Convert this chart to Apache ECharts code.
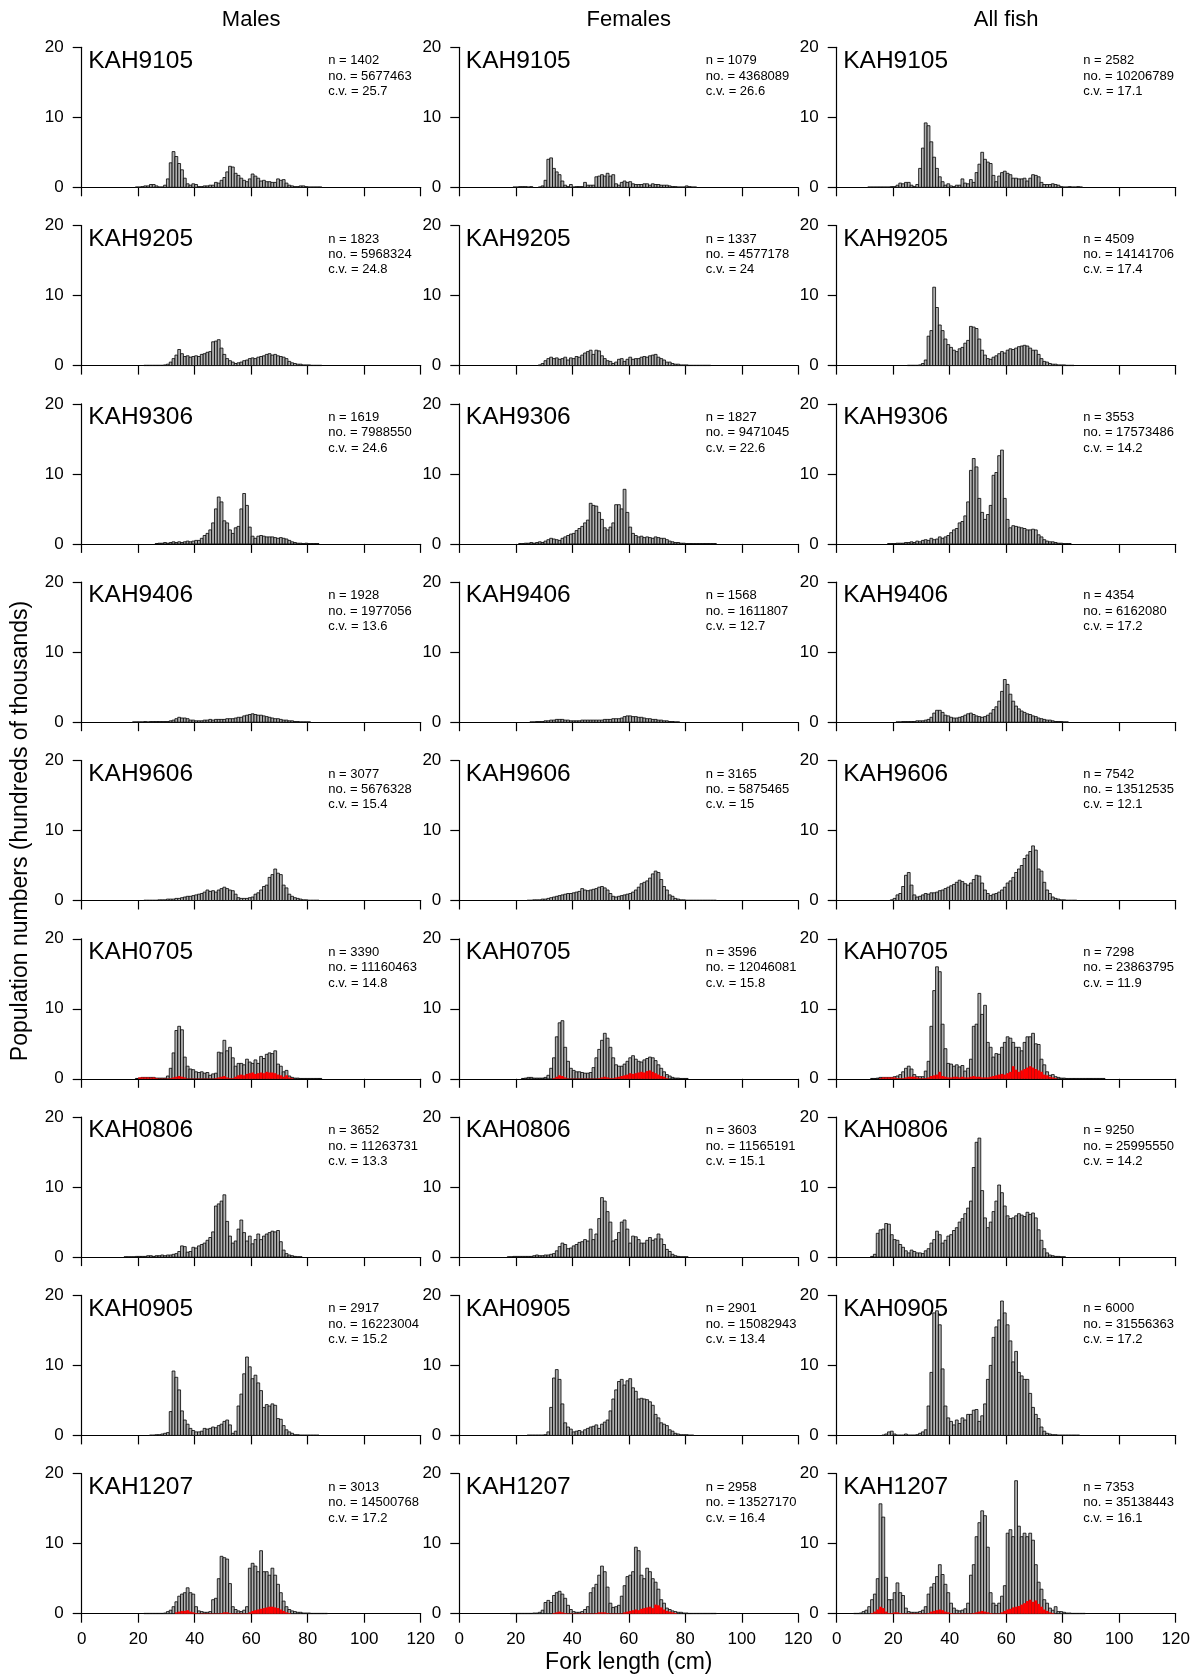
<!DOCTYPE html>
<html>
<head>
<meta charset="utf-8">
<title>Length frequency by survey</title>
<script src="https://cdn.jsdelivr.net/npm/echarts@6/dist/echarts.min.js"></script>
<style>
  html, body { margin: 0; padding: 0; background: #fff; }
  #chart { width: 1195px; height: 1674px; }
</style>
</head>
<body>
<div id="chart"></div>
<script>
/*---------------------------------------- data ----------------------------------------*/
var surveys = ['KAH9105', 'KAH9205', 'KAH9306', 'KAH9406', 'KAH9606', 'KAH0705', 'KAH0806', 'KAH0905', 'KAH1207'];
var groups = ['Males', 'Females', 'All fish'];

var nMale = [1402, 1823, 1619, 1928, 3077, 3390, 3652, 2917, 3013];
var noMale = [5677463, 5968324, 7988550, 1977056, 5676328, 11160463, 11263731, 16223004, 14500768];
var cvMale = ['25.7', '24.8', '24.6', '13.6', '15.4', '14.8', '13.3', '15.2', '17.2'];
var nFemale = [1079, 1337, 1827, 1568, 3165, 3596, 3603, 2901, 2958];
var noFemale = [4368089, 4577178, 9471045, 1611807, 5875465, 12046081, 11565191, 15082943, 13527170];
var cvFemale = ['26.6', '24', '22.6', '12.7', '15', '15.8', '15.1', '13.4', '16.4'];
var nAll = [2582, 4509, 3553, 4354, 7542, 7298, 9250, 6000, 7353];
var noAll = [10206789, 14141706, 17573486, 6162080, 13512535, 23863795, 25995550, 31556363, 35138443];
var cvAll = ['17.1', '17.4', '14.2', '17.2', '12.1', '11.9', '14.2', '17.2', '16.1'];

// population numbers (hundreds of thousands) per 1 cm bin, first bin given in *From arrays
var m9105 = [.05,.05,.1,.2,.2,.4,.4,.2,.05,.05, .3,1.2,3.5,5.1,4.4,3.4,2.5,1.3,.5,.3, .5,.4,.1,.1,.2,.2,.3,.3,.7,.6,
  1.0,1.4,2.2,3.0,2.9,2.0,1.7,1.3,1.0,.8, 1.2,1.9,1.6,1.3,.9,1.0,.8,.8,.7,.7, 1.2,1.0,1.1,.6,.3,.2,.1,.1,.2,.2, .1,.05,.05,.05,.05,.05];
var m9205 = [.05,.05,.05,.05,.05,.05,.05, .1,.2,.5,1.0,1.5,2.3,1.7,1.3,1.4,1.2,1.3, 1.4,1.3,1.6,1.7,1.9,2.0,3.4,3.5,3.7,2.5,
  1.6,1.0,.7,.5,.3,.4,.5,.7,.8,1.0, 1.1,1.0,1.2,1.3,1.4,1.6,1.7,1.5,1.6,1.4, 1.3,1.2,1.0,.6,.4,.3,.2,.2,.1,.1, .1,.05,.05,.05,.05];
var m9306 = [.05,.1,.1,.2,.1,.2,.3,.2,.3,.2,.3,.4,.3,.4,.5,.5,.8,1.2,1.5,2.0,3.0,5.0,6.7,6.0,3.3,3.0,2.0,1.5,2.3,2.5,
  5.0,7.2,5.5,2.4,1.1,.8,1.1,1.2,1.1,1.0,1.0,1.0,.9,.8,.9,.8,.7,.5,.3,.2,.1,.1,.05,.1,.05,.05,.05,.05];
var m9406 = [.05,.05,.05,.05,.1,.05,.1,.1,.1,.1,.1,.1,.1,.2,.3,.5,.7,.6,.6,.5,.3,.3,.2,.2,.2,.3,.3,.4,.3,.4,
  .4,.4,.4,.5,.5,.5,.6,.7,.7,.9,1.0,1.1,1.2,1.1,1.0,1.0,.9,.8,.7,.6,.5,.5,.4,.3,.3,.2,.2,.1,.1,.05,.05,.05,.05];
var m9606 = [.05,.05,.05,.05,.05,.1,.1,.1,.2,.2,.2,.3,.3,.4,.5,.6,.6,.7,.8,.9,1.0,1.2,1.5,1.3,1.4,1.2,1.5,1.7,1.9,1.7,
  1.5,1.4,.9,.4,.3,.3,.3,.4,.5,.9,1.1,1.5,2.0,2.2,3.3,3.7,4.5,3.9,3.7,2.2,1.8,.9,.6,.4,.3,.2,.1,.1,.05,.05,.05,.05];
var m0705 = [.05,.1,.2,.2,.2,.2,.2,.1,.1,.1, .1,.4,1.5,3.7,6.9,7.5,7.0,3.1,1.8,1.4, 1.3,1.0,.9,1.0,.8,.9,.5,.7,.8,3.8,
  3.7,5.5,4.0,4.5,3.0,1.8,2.2,2.2,2.0,2.8, 2.4,2.2,2.7,2.2,3.2,2.9,3.5,3.7,3.6,4.0, 2.1,1.8,1.0,1.2,.4,.2,.1,.1,.05,.05, .05,.05,.05,.05,.05,.05];
var m0806 = [.05,.05,.05,.05,.1, .1,.1,.1,.2,.2,.1,.2,.2,.3,.2, .3,.3,.4,.5,.8,1.6,1.5,.7,.8,1.4, 1.3,1.6,1.8,2.0,2.4,2.8,3.6,7.3,7.6,8.0,
  8.9,5.1,3.0,2.0,2.3,4.0,5.3,3.5,2.3,3.0, 1.9,2.5,3.3,2.5,3.0,3.3,3.5,3.7,3.6,3.8, 2.2,1.0,.5,.3,.2,.1,.05,.05];
var m0905 = [.05,.05,.1,.1,.2,.3, .4,3.4,9.2,8.3,6.5,3.5,2.2,1.6,1.0,.7, .5,.5,.6,1.0,.9,1.0,1.2,1.1,1.4,1.6,
  2.0,2.2,1.5,.3,.6,4.2,5.9,8.8,11.2,9.8, 8.1,8.6,7.5,6.4,4.0,4.4,4.2,4.5,4.3,2.4, 2.3,1.4,.8,.5,.3,.1,.1,.05,.05,.05, .05,.05,.05,.05];
var m1207 = [.05,.05,.05,.05,.05,.05,.05, .1,.3,.5,1.0,1.7,2.5,2.8,3.0,3.7,3.0,2.8, 1.0,.4,.3,.2,.2,.3,2.0,2.2,5.0,8.2,
  8.0,7.8,4.3,1.0,.6,.4,.3,.5,1.0,6.5, 7.2,6.8,6.0,9.0,6.0,6.0,5.5,6.5,5.5,4.2, 3.0,1.8,1.0,.6,.4,.3,.2,.2,.1,.1, .1,.05,.05,.05,.05,.05,.05];

var f9105 = [.05,.05,.1,.1,.1,.05,.1,0,0,.05, .2,1.0,4.0,4.2,2.7,2.2,1.8,.9,.3,.1, .4,.05,.1,.1,.1,.7,.3,.3,.3,1.5,
  1.6,1.8,1.6,2.0,1.6,1.8,.5,.3,.7,.9, .7,.8,.5,.4,.4,.4,.5,.5,.3,.5, .4,.4,.3,.3,.3,.2,.1,.1,.05,.05, .05,.2,.1,.05,.05];
var f9205 = [.1,.3,.7,1.0,1.2,1.0,1.1,.9,1.0,1.2,.8,1.1, 1.0,1.3,1.2,1.5,1.8,2.0,2.2,1.6,2.2,2.1, 1.4,1.0,.7,.6,.3,.5,.9,1.0,.6,.9,
  1.2,.9,1.0,1.0,1.2,1.3,1.2,1.4,1.5,1.6, 1.2,1.0,.8,.5,.5,.3,.2,.2,.1,.1, .1,.05,.05,.05,.05,.05,.05,.05,.05];
var f9306 = [.05,.05,.1,.1,.2,.1,.2,.3,.2,.4, .6,.8,.7,.6,.5,.8,1.0,1.2,1.4,1.5, 1.9,2.2,2.5,3.0,3.4,5.8,5.5,5.4,4.5,3.5,
  2.3,2.0,2.4,3.0,5.6,5.6,5.0,7.8,4.5,2.4, 1.5,1.2,1.0,1.1,.9,1.0,.9,.8,1.0,.9, .8,.8,.6,.4,.3,.2,.2,.1,.1,
  .05,.05,.05,.05,.05,.05,.05,.05,.05,.05,.05];
var f9406 = [.05,.05,.1,.1,.1,.2,.2,.3,.3,.4,.4,.4,.3,.3,.2,.2,.2,.2,.3,.3,.3,.3,.3,.3,.3,.3,.4,.4,.4,.5,
  .5,.5,.6,.8,.9,.9,.8,.8,.7,.7,.6,.5,.5,.4,.4,.3,.3,.2,.2,.1,.1,.05,.05];
var f9606 = [.05,.05,.1,.1,.1,.2,.2,.3,.4,.5,.6,.7,.8,.9,1.0,1.0,1.1,1.2,1.3,1.7,1.5,1.4,1.5,1.6,1.7,1.9,2.0,1.8,1.5,1.0,
  .6,.5,.6,.7,.8,.9,1.0,1.2,1.5,1.9,2.4,2.6,2.8,3.2,3.8,4.2,4.0,3.0,2.0,1.5,.8,.6,.3,.2,.1,.1,
  .05,.05,.05,.05,.05,.05,.05,.05,.05,.05,.05];
var f0705 = [.05,.1,.2,.2,.1,.1,.1,.1, .2,.5,1.5,3.0,6.0,8.0,8.3,4.5,2.5,1.5, 1.2,1.0,1.0,.9,.8,.8,.9,1.6,3.0,4.2,
  5.5,6.5,5.8,4.5,3.0,2.0,1.8,1.8,2.1,2.5, 3.0,3.3,2.8,2.5,2.4,2.7,2.9,3.1,3.0,2.6, 2.0,1.5,1.0,.6,.4,.2,.1,.1,.05,.05, .05];
var f0806 = [.05,.05,.1,.1,.1,.1,.1,.1,.1, .2,.3,.2,.2,.3,.3,.4,.5,.9,1.5, 2.0,1.8,1.2,1.3,1.6,1.8,2.1,2.2,2.5,2.3,
  4.0,2.5,3.3,5.5,8.5,8.0,6.5,5.0,2.3,2.5, 3.5,5.0,5.3,4.0,2.0,3.0,2.9,2.5,2.0,2.0, 2.4,2.8,2.4,2.6,3.3,2.6,1.8,1.1,.8,.4, .2,.1,.05,.05,.05];
var f0905 = [.05,.05,.05,.05,.05,.05, .1,.5,4.0,8.2,9.4,8.0,4.5,1.8,1.2,.9, .5,.6,.7,.5,.8,1.0,1.2,1.3,1.5,1.0,
  1.6,1.9,2.2,3.5,5.2,6.5,7.7,8.0,7.2,7.8, 8.1,6.8,6.3,5.2,5.3,5.2,5.1,4.8,4.3,3.0, 2.5,1.8,1.6,1.4,.8,.6,.3,.2,.1,.1, .1,.05,.05];
var f1207 = [.05,.05,.05,.05,.05,.05,.05,.05, .1,.1,.2,.5,1.6,1.9,1.6,2.6,3.0,3.2, 2.8,2.2,1.2,.6,.3,.2,.2,.3,.6,1.0,
  3.0,3.7,4.2,5.5,6.8,6.0,3.8,1.5,.9,1.0, 1.2,2.5,4.0,5.3,5.5,6.0,9.5,9.0,5.5,5.0, 6.5,6.0,5.0,4.5,3.5,2.0,1.5,.8,.6,.4,
  .3,.2,.2,.1,.1,.05,.05,.05,.05,.05,.05,.05,.05,.05,.05];

var a9105 = [.05,.05,.05,.05,.05,.05,.05,.05, .1,.1,.3,.6,.5,.7,.7,.3,.1,.4, 2.7,5.6,9.2,8.8,6.5,4.3,2.7,1.5,.8,.3,
  .5,.2,.1,.3,.3,1.2,.6,.5,1.1,.7, 2.1,3.3,5.0,4.0,3.6,3.4,1.7,.8,1.6,2.1, 2.3,2.0,1.8,1.3,1.3,1.2,1.2,1.3,.9,1.3,
  1.8,1.7,1.5,.7,.4,.4,.4,.5,.4,.3, .1,.05,.05,.1,.05,.05,.1,.05];
var a9205 = [.05,.05,.05,.05,.1,.3, .8,4.2,5.0,11.2,8.3,5.8,5.0,3.8,3.0,2.6, 2.2,2.0,2.4,2.6,3.2,3.6,5.6,5.5,5.3,3.8,
  2.2,1.5,1.0,.9,1.2,1.4,1.7,2.0,1.8,2.2, 2.4,2.3,2.5,2.7,2.8,2.9,2.8,2.5,2.2,2.2, 1.6,1.0,.6,.5,.3,.2,.2,.1,.1,.1, .05,.05,.05];
var a9306 = [.05,.05,.05,.1,.1,.1,.2,.2,.3,.2,.4,.3,.5,.6,.5,.8,.6,.7,1.0,.8,1.0,1.2,1.6,2.0,2.2,3.0,3.2,4.0,6.0,10.5,
  12.2,11.0,6.5,4.5,3.5,4.2,5.5,9.8,10.2,12.6,13.4,6.5,3.5,2.3,2.6,2.5,2.4,2.3,2.2,2.0,2.0,2.1,2.0,1.3,1.0,.6,.4,.3,.3,.2,
  .1,.1,.05,.05,.05];
var a9406 = [.05,.05,.1,.1,.1,.1,.1,.2,.2,.2,.3,.4,.7,1.3,1.7,1.7,1.4,1.0,.9,.7,.6,.6,.7,.8,1.0,1.2,1.3,1.1,.9,.8,
  .7,.8,1.0,1.3,1.8,2.2,3.0,4.4,6.1,5.4,4.0,3.0,2.3,1.9,1.6,1.4,1.2,1.1,.9,.8,.6,.5,.4,.3,.3,.2,.1,.1,.1,.05,.05];
var a9606 = [.1,.3,.8,1.0,2.0,3.6,4.0,2.2,.8,.5, .6,.8,1.0,.9,1.1,1.1,1.2,1.4,1.5,1.7, 1.9,2.1,2.3,2.6,2.9,2.7,2.4,2.2,2.5,3.0,
  3.6,3.5,2.5,1.5,1.0,.7,.9,1.0,1.2,1.5, 1.9,2.5,2.8,3.3,4.0,4.5,5.0,6.0,6.5,7.0, 7.8,7.2,4.5,4.2,2.6,1.5,1.0,.5,.3,.2,
  .1,.1,.05,.05,.05,.05];
var a0705 = [.05,.05,.1,.2,.2,.2,.2,.2, .3,.4,.6,1.0,1.5,1.8,1.4,.6,.3,.3, .3,1.1,2.5,7.5,12.6,16.0,15.3,7.8,4.3,2.2,
  2.1,1.8,2.0,1.7,1.9,1.1,1.5,2.8,7.5,7.8, 12.2,9.2,10.5,5.2,4.5,3.1,3.6,3.5,4.5,5.2, 6.0,5.8,5.2,4.5,4.5,4.0,5.2,6.0,6.0,6.5,
  5.0,4.9,2.8,2.0,1.0,.5,.6,.3,.2,.1, .1,.05,.05,.05,.05,.05,.05,.05,.05,.05,.05,.05,.05,.05,.05];
var a0806 = [.1,.4,3.4,3.9,4.0,4.8,4.7,3.2, 2.5,2.4,1.8,1.4,.9,.6,1.0,.8,.6,.6, .5,.9,1.2,2.0,2.5,3.7,3.2,2.0,2.4,3.0,
  3.2,3.8,4.2,5.0,5.5,6.2,7.0,8.0,12.8,16.4, 17.0,9.5,5.6,4.2,5.0,6.5,8.0,10.3,9.2,7.3, 5.9,5.5,5.6,5.9,6.2,6.0,5.8,6.4,6.1,6.3,
  5.6,3.9,2.4,1.2,.6,.3,.2,.1,.1,.05, .05];
var a0905 = [.05,.2,.5,.6,.2,.05,.05,.05,.2,.05,.05,.05,.1,.3, .5,.8,4.2,9.0,17.5,17.8,15.8,9.5,4.2,2.5,
  2.0,1.5,2.2,1.7,2.5,2.2,3.0,3.0,3.6,3.7, 2.0,2.8,4.5,8.0,10.0,14.0,15.5,16.5,19.2,17.5, 15.8,13.5,10.5,12.0,9.0,8.5,8.0,8.0,6.0,4.0,
  3.0,2.4,1.2,.6,.3,.2,.1,.1,.05,.05, .05,.05,.05,.05,.05,.05];
var a1207 = [.05,.05,.1,.3,.5,1.0,2.0,2.8,5.0,15.7,13.8,5.2,2.0,2.0, 3.0,4.4,3.0,2.6,.8,.3,.2,.2,.2,.3,
  .5,1.0,2.8,3.8,4.3,5.3,7.0,5.6,4.2,3.0, 1.5,.8,.5,.4,.5,.7,1.5,5.5,7.0,11.0, 13.0,14.7,14.0,9.5,3.0,1.5,1.2,1.5,2.5,4.0,
  11.5,12.0,11.0,19.0,12.5,11.0,11.5,11.0,11.5,10.5, 7.0,4.5,3.5,2.0,1.5,.8,.5,1.0,.3,.3, .2,.1,.1,.05,.05,.05,.05,.05];

var maleFrom = [19, 22, 26, 18, 22, 19, 15, 24, 22];
var femaleFrom = [19, 28, 21, 25, 24, 22, 17, 24, 18];
var allFrom = [11, 25, 18, 21, 19, 12, 12, 16, 6];

// red overlay (KAH0705 and KAH1207 only)
var redM0705 = [.2,.2,.2,.2,.15,.2,.1,.05,.05,.05, .05,.1,.2,.3,.4,.3,.2,.05,.05,.05, .05,.05,.05,.05,.05,.05,.05,.1,.2,.3,
  .4,.2,.1,.1,.3,.5,.6,.5,.7,.8, .9,.7,.8,.9,.8,1.0,.9,.9,.8,.6, .5,.3,.5,.2,.1];
var redF0705 = [.1,.3,.5,.4,.2, .05,.05,.05,.05,.05,.05,.05,.05,.05,.05,.05, .1,.2,.3,.2,.1,.1,.2,.3,.4,.5,.6,
  .8,.7,.8,.9,1.0,.9,1.1,1.2,1.0,.8, .6,.4,.3,.1];
var redA0705 = [.1,.2,.2,.2,.2,.2,.1,.1,.1,.2,.3,.3,.3,.2,.1,.1,.1,.2,.4,.5,.6,1.0,.4,.3,.2,.2,.3,.3,.2,.3,
  .2,.2,.3,.4,.3,.3,.2,.2,.2,.3,.4,.5,.6,.7,.6,.8,1.0,1.8,1.3,1.0,1.2,1.4,1.6,1.8,1.6,1.4,1.2,1.0,.6,.5,.3,.2,.1];
var redM1207 = [.2,.3,.4,.4,.5,.3,.2,.1, .05,.05,.05,.05,.05,.05,.05,.05, .1,.2,.2,.1, .05,.05,.05,.05,.05,.05,
  .2,.4,.5,.6,.7,.8,.9,1.0,1.0,.9,.8,.6,.4,.2,.1];
var redF1207 = [.1,.2,.3,.2,.1, .05,.05,.05,.05,.05,.05,.05,.05,.05,.05, .1,.2,.2,.2,.1, .05,.05,.05,.05,.05,
  .2,.3,.4,.5,.6,.5,.7,.8,.9,1.0,.8,1.3,1.2,.9,.6,.4,.3,.2,.1];
var redA1207 = [.1,.3,.6,1.0,.8,.3,.1,.1,.2,.2,.1, .05,.05,.05,.05,.05,.05,.05,.05,.05, .1,.3,.4,.5,.6,.5,.3,.2,.1,
  .05,.05,.05,.05,.05,.05,.05, .1,.2,.3,.4,.3,.2,.1,.05,.05,.05, .2,.4,.6,.7,.9,1.0,1.1,1.3,1.5,1.8,2.0,1.7,1.9,1.4,1.0,.6,.4,.2,.1];

var maleBins = [m9105, m9205, m9306, m9406, m9606, m0705, m0806, m0905, m1207];
var femaleBins = [f9105, f9205, f9306, f9406, f9606, f0705, f0806, f0905, f1207];
var allBins = [a9105, a9205, a9306, a9406, a9606, a0705, a0806, a0905, a1207];
var redBins = { 5: [[redM0705, 20], [redF0705, 33], [redA0705, 15]],
                8: [[redM1207, 33], [redF1207, 33], [redA1207, 12]] };

/*---------------------------------------- layout ----------------------------------------*/
var FONT = '"Liberation Sans", Arial, sans-serif';
var colLeft = [81.7, 459.3, 836.7];
var plotW = 339, plotH = 140, firstTop = 47.3, rowStep = 178.3;

function toPairs(vals, from) {
    var out = [];
    for (var i = 0; i < vals.length; i++) {
        if (vals[i] > 0) out.push([from + i, vals[i]]);
    }
    return out;
}

function barItem(fill, stroke) {
    return function (params, api) {
        var x0 = api.value(0), h = api.value(1);
        var p0 = api.coord([x0, h]);
        var p1 = api.coord([x0 + 1, 0]);
        return {
            type: 'rect',
            shape: { x: p0[0], y: p0[1], width: p1[0] - p0[0], height: p1[1] - p0[1] },
            style: stroke ? { fill: fill, stroke: '#000', lineWidth: 0.8 } : { fill: fill }
        };
    };
}

function makeText(text, x, y, size, align, rot) {
    return {
        type: 'text', x: x, y: y, rotation: rot || 0, silent: true,
        style: { text: text, font: size + 'px ' + FONT, fill: '#000',
                 textAlign: align || 'left', textVerticalAlign: 'middle', verticalAlign: 'middle' }
    };
}

function buildChart() {
    var grids = [], xAxes = [], yAxes = [], series = [], texts = [];
    var stats = [[nMale, noMale, cvMale], [nFemale, noFemale, cvFemale], [nAll, noAll, cvAll]];
    var bins = [maleBins, femaleBins, allBins];
    var froms = [maleFrom, femaleFrom, allFrom];

    for (var c = 0; c < 3; c++) {
        texts.push(makeText(groups[c], colLeft[c] + plotW / 2, 19.5, 22, 'center'));
    }

    for (var r = 0; r < surveys.length; r++) {
        for (var k = 0; k < 3; k++) {
            var idx = r * 3 + k;
            var panelTop = firstTop + r * rowStep;
            grids.push({ left: colLeft[k], top: panelTop, width: plotW, height: plotH });
            xAxes.push({
                gridIndex: idx, type: 'value', min: 0, max: 120, interval: 20,
                axisLine: { show: true, onZero: false, lineStyle: { color: '#000', width: 1.2 } },
                axisTick: { show: true, length: 9, lineStyle: { color: '#000', width: 1.2 } },
                axisLabel: { show: r === surveys.length - 1, margin: 17, fontSize: 17, color: '#000',
                             fontFamily: FONT, showMinLabel: true, showMaxLabel: true },
                splitLine: { show: false }
            });
            yAxes.push({
                gridIndex: idx, type: 'value', min: 0, max: 20, interval: 10,
                axisLine: { show: true, lineStyle: { color: '#000', width: 1.2 } },
                axisTick: { show: true, length: 9, lineStyle: { color: '#000', width: 1.2 } },
                axisLabel: { margin: 18, fontSize: 17, color: '#000', fontFamily: FONT,
                             showMinLabel: true, showMaxLabel: true },
                splitLine: { show: false }
            });
            series.push({
                type: 'custom', xAxisIndex: idx, yAxisIndex: idx, silent: true, z: 2,
                renderItem: barItem('#b0b0b0', true),
                encode: { x: 0, y: 1 },
                data: toPairs(bins[k][r], froms[k][r])
            });
            if (redBins[r]) {
                series.push({
                    type: 'custom', xAxisIndex: idx, yAxisIndex: idx, silent: true, z: 3,
                    renderItem: barItem('#ff0000', false),
                    encode: { x: 0, y: 1 },
                    data: toPairs(redBins[r][k][0], redBins[r][k][1])
                });
            }
            texts.push(makeText(surveys[r], colLeft[k] + 6.5, panelTop + 13.5, 24.5, 'left'));
            texts.push(makeText('n = ' + stats[k][0][r], colLeft[k] + 246.5, panelTop + 13.5, 13, 'left'));
            texts.push(makeText('no. = ' + stats[k][1][r], colLeft[k] + 246.5, panelTop + 29, 13, 'left'));
            texts.push(makeText('c.v. = ' + stats[k][2][r], colLeft[k] + 246.5, panelTop + 44.3, 13, 'left'));
        }
    }

    texts.push(makeText('Fork length (cm)', colLeft[1] + plotW / 2, 1663, 23, 'center'));
    texts.push(makeText('Population numbers (hundreds of thousands)', 21, 831, 23, 'center', Math.PI / 2));

    var chart = echarts.init(document.getElementById('chart'), null, { renderer: 'canvas' });
    chart.setOption({
        animation: false,
        backgroundColor: '#fff',
        grid: grids,
        xAxis: xAxes,
        yAxis: yAxes,
        series: series,
        graphic: texts
    });
}

buildChart();
</script>
</body>
</html>
